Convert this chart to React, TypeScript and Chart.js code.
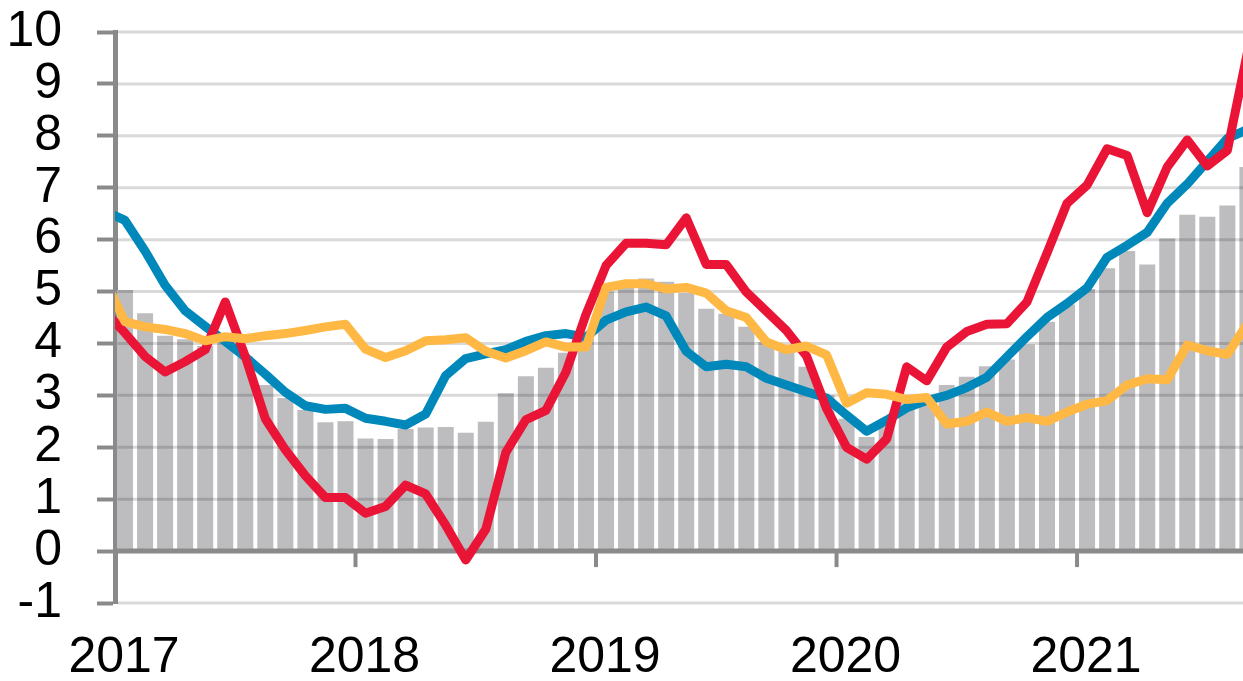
import React, { useEffect, useRef } from 'react';
import { Chart, registerables } from 'chart.js';

Chart.register(...registerables);

// Year axis: month index 0 = Jan 2017
const yearTickMonths = [0, 12, 24, 36, 48];
const yearLabels = ['2017', '2018', '2019', '2020', '2021'];
const yTickValues = [-1, 0, 1, 2, 3, 4, 5, 6, 7, 8, 9, 10];

// Grey bars, monthly Jan 2017 – Sep 2021
const barValues = [
  5.03, 4.58, 4.15, 4.08, 3.95, 4.1, 3.75, 3.2, 2.95, 2.72, 2.48, 2.5,
  2.17, 2.16, 2.35, 2.38, 2.39, 2.28, 2.49, 3.04, 3.37, 3.53, 3.82, 4.08,
  5.0, 5.15, 5.25, 5.19, 4.97, 4.67, 4.57, 4.32, 4.03, 3.9, 3.55, 3.0,
  2.55, 2.2, 2.4, 2.9, 2.98, 3.2, 3.36, 3.56, 3.69, 3.98, 4.42, 4.75,
  5.05, 5.45, 5.78, 5.52, 6.02, 6.48, 6.44, 6.66, 7.4,
];

// Lines, monthly Dec 2016 – Sep 2021
const redValues = [
  4.62,
  4.2, 3.75, 3.45, 3.65, 3.88, 4.8, 3.75, 2.55, 1.95, 1.45, 1.03, 1.03,
  0.73, 0.86, 1.27, 1.1, 0.5, -0.17, 0.42, 1.9, 2.53, 2.71, 3.45, 4.56,
  5.5, 5.93, 5.93, 5.9, 6.42, 5.52, 5.52, 4.99, 4.62, 4.25, 3.76, 2.75,
  2.0, 1.77, 2.16, 3.55, 3.28, 3.93, 4.23, 4.37, 4.38, 4.8, 5.74, 6.7,
  7.05, 7.75, 7.62, 6.52, 7.4, 7.92, 7.42, 7.72, 9.6,
];

const blueValues = [
  6.55,
  6.37, 5.78, 5.12, 4.63, 4.33, 4.04, 3.74, 3.41, 3.06, 2.8, 2.73, 2.75,
  2.56, 2.5, 2.43, 2.64, 3.38, 3.71, 3.8, 3.88, 4.04, 4.15, 4.19, 4.12,
  4.45, 4.61, 4.7, 4.53, 3.85, 3.55, 3.6, 3.55, 3.33, 3.2, 3.07, 2.95,
  2.62, 2.31, 2.52, 2.76, 2.9, 3.0, 3.15, 3.35, 3.74, 4.13, 4.5, 4.77,
  5.07, 5.66, 5.89, 6.14, 6.7, 7.07, 7.51, 7.95, 8.12,
];

const yellowValues = [
  5.2,
  4.42, 4.32, 4.27, 4.19, 4.05, 4.13, 4.09, 4.15, 4.19, 4.25, 4.32, 4.37,
  3.89, 3.73, 3.86, 4.05, 4.07, 4.11, 3.85, 3.72, 3.86, 4.03, 3.93, 3.93,
  5.08, 5.15, 5.15, 5.05, 5.08, 4.97, 4.63, 4.5, 4.03, 3.88, 3.95, 3.78,
  2.85, 3.05, 3.02, 2.92, 2.96, 2.45, 2.5, 2.68, 2.5, 2.57, 2.5, 2.68,
  2.83, 2.9, 3.2, 3.32, 3.3, 3.97, 3.86, 3.79, 4.38,
];

const AXIS_GREY = '#8a8a8a';
const FONT = { family: "'Liberation Sans', Arial, sans-serif", size: 50, lineHeight: 1 };

const overBarGrid = {
  id: 'overBarGrid',
  afterDatasetDraw(chart: any, args: any) {
    if (args.index !== 0) return;
    const { ctx, chartArea, scales } = chart;
    const ys = scales.y;
    const xs = scales.x;
    ctx.save();
    ctx.strokeStyle = 'rgba(0,0,0,0.15)';
    ctx.lineWidth = 3;
    yTickValues.forEach((v) => {
      if (v === 0) return;
      const py = ys.getPixelForValue(v);
      ctx.beginPath();
      ctx.moveTo(chartArea.left + 2.5, py);
      ctx.lineTo(chartArea.right, py);
      ctx.stroke();
    });
    const y0 = ys.getPixelForValue(0);
    ctx.strokeStyle = AXIS_GREY;
    ctx.lineWidth = 5;
    ctx.beginPath();
    ctx.moveTo(chartArea.left, y0);
    ctx.lineTo(chartArea.right, y0);
    ctx.stroke();
    ctx.lineWidth = 4;
    yearTickMonths.slice(1).forEach((m) => {
      const px = xs.getPixelForValue(m);
      ctx.beginPath();
      ctx.moveTo(px, y0);
      ctx.lineTo(px, y0 + 16);
      ctx.stroke();
    });
    ctx.restore();
  },
};

export default function App() {
  const canvasRef = useRef<HTMLCanvasElement | null>(null);

  useEffect(() => {
    const canvas = canvasRef.current;
    if (!canvas) return;
    const lineDs = (label: string, values: number[], color: string, order: number) => ({
      type: 'line' as const,
      label,
      data: values.map((v, i) => ({ x: i - 0.5, y: v })),
      borderColor: color,
      backgroundColor: color,
      borderWidth: 9,
      pointRadius: 0,
      tension: 0,
      borderJoinStyle: 'round' as const,
      order,
    });
    const chart = new Chart(canvas, {
      type: 'bar',
      data: {
        datasets: [
          {
            type: 'bar',
            label: 'bars',
            data: barValues.map((v, i) => ({ x: i + 0.5, y: v })),
            backgroundColor: '#bdbdbf',
            borderWidth: 0,
            barPercentage: 0.8,
            categoryPercentage: 1,
            order: 10,
          } as any,
          lineDs('blue', blueValues, '#0088bb', 3),
          lineDs('red', redValues, '#ea1436', 2),
          lineDs('yellow', yellowValues, '#ffb844', 1),
        ],
      },
      options: {
        responsive: false,
        animation: false,
        devicePixelRatio: 1,
        events: [],
        layout: { padding: { top: 32, left: 0, right: 0, bottom: 0 } },
        plugins: { legend: { display: false }, tooltip: { enabled: false } },
        scales: {
          x: {
            type: 'linear',
            offset: false,
            bounds: 'data',
            min: 0,
            max: 56.28,
            grid: { display: false, drawTicks: false, offset: false },
            border: { display: false },
            afterBuildTicks: (s: any) => {
              s.ticks = yearTickMonths.map((v) => ({ value: v }));
            },
            afterFit: (s: any) => {
              s.height = 78;
              s.paddingLeft = 0;
              s.paddingRight = 0;
            },
            ticks: {
              autoSkip: false,
              maxRotation: 0,
              minRotation: 0,
              labelOffset: 9,
              padding: 30,
              color: '#000',
              font: FONT,
              callback: (v: any) => {
                const i = yearTickMonths.indexOf(Number(v));
                return i >= 0 ? yearLabels[i] : '';
              },
            },
          },
          y: {
            min: -1,
            max: 10,
            grid: {
              display: true,
              drawOnChartArea: false,
              drawTicks: true,
              tickLength: 18,
              tickColor: AXIS_GREY,
              tickWidth: 4,
              color: 'rgba(0,0,0,0)',
            },
            border: { display: true, color: AXIS_GREY, width: 5 },
            afterBuildTicks: (s: any) => {
              s.ticks = yTickValues.map((v) => ({ value: v }));
            },
            afterFit: (s: any) => {
              s.width = 115;
              s.paddingTop = 0;
              s.paddingBottom = 0;
            },
            ticks: {
              autoSkip: false,
              padding: 35,
              color: '#000',
              font: FONT,
            },
          },
        },
      },
      plugins: [overBarGrid],
    } as any);
    return () => chart.destroy();
  }, []);

  return (
    <div style={{ position: 'fixed', left: 0, top: 0, width: 1243, height: 681, background: '#fff' }}>
      <canvas ref={canvasRef} width={1243} height={681} style={{ display: 'block' }} />
    </div>
  );
}
